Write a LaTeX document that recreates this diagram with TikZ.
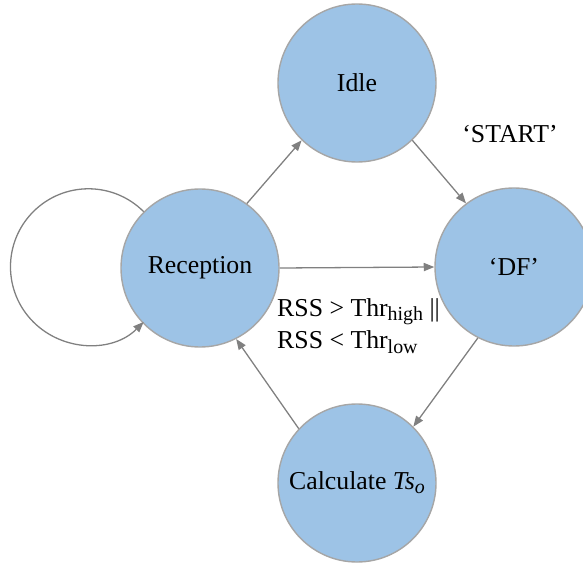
\documentclass[tikz,border=0pt]{standalone}
\usepackage{fontspec}
\setmainfont{Liberation Serif}
\usetikzlibrary{arrows.meta}

\definecolor{stateblue}{HTML}{9DC3E6}
\definecolor{stateedge}{HTML}{A6A6A6}
\definecolor{arrowgray}{HTML}{808080}

% subscript in the size the slide uses
\newcommand{\lowidx}[1]{\raisebox{-0.35ex}{\fontsize{17}{17}\selectfont #1}}

\begin{document}
\begin{tikzpicture}[
    x=0.03cm, y=-0.03cm,
    state/.style={
        circle,
        minimum size=4.74cm,
        inner sep=0pt,
        draw=stateedge,
        line width=1.2pt,
        fill=stateblue,
        font=\fontsize{22}{26}\selectfont
    },
    trans/.style={
        draw=arrowgray,
        line width=1.1pt,
        -{Triangle[length=9pt,width=7pt]}
    },
    lbl/.style={
        font=\fontsize{22}{28}\selectfont
    }
]

\useasboundingbox (0,0) rectangle (583,565);

\node[state] (idle) at (357,83) {Idle};
\node[state] (rec) at (200,268) {Reception};
\node[state] (df) at (514,267) {‘DF’};
\node[state] (calc) at (357,483) {Calculate \textit{Ts\lowidx{o}}};

\draw[trans] (rec.54) -- (idle.226);
\draw[trans] (idle.314) -- (df.127);
\draw[trans] (rec.0) -- (df.180);
\draw[trans] (df.243) -- (calc.45);
\draw[trans] (calc.137) -- (rec.297);

% self loop on reception
\draw[trans] (rec.135) arc[start angle=45, end angle=315, radius=2.34cm];

\node[lbl] (start) at (510,134) {‘START’};
\node[lbl, anchor=north west, align=left, inner sep=0pt] (cond) at (277,298)
    {RSS > Thr\lowidx{high} ||\\RSS < Thr\lowidx{low}};

\end{tikzpicture}
\end{document}
